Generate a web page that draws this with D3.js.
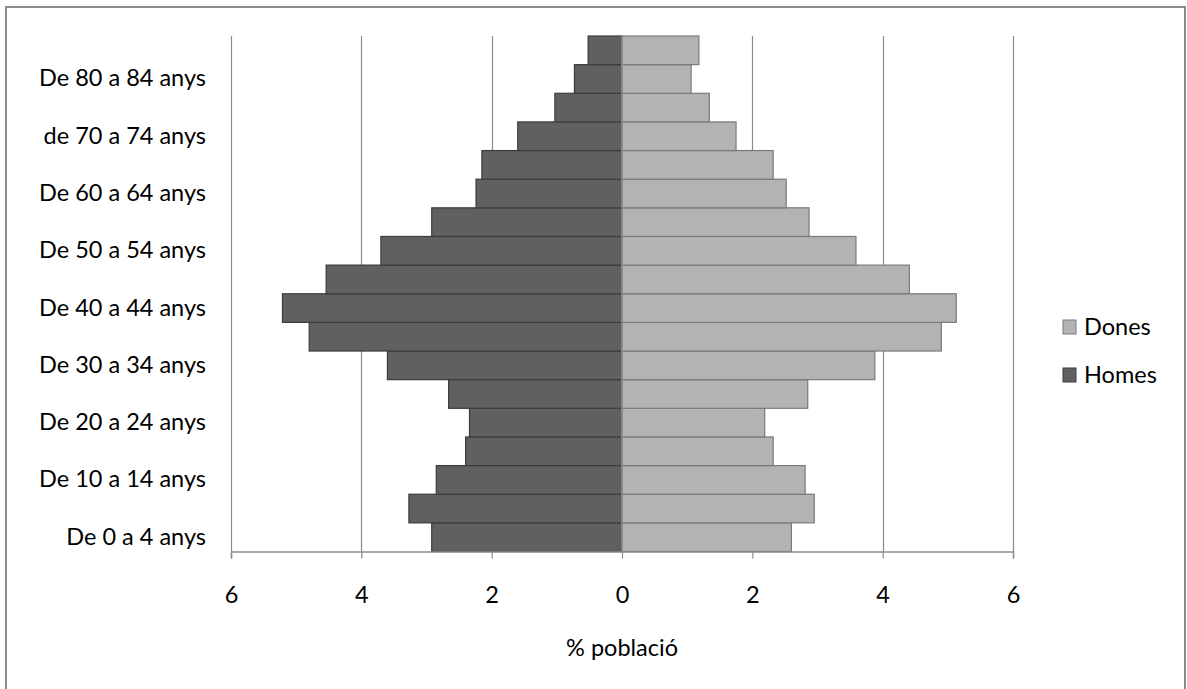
<!DOCTYPE html>
<html>
<head>
<meta charset="utf-8">
<script src="https://cdn.jsdelivr.net/npm/d3@7"></script>
<style>
  html, body { margin: 0; padding: 0; background: #fff; }
  svg { display: block; }
  text { font-family: Lato, "Open Sans", sans-serif; fill: #000; }
</style>
</head>
<body>
<svg id="chart" width="1187" height="689"></svg>
<script>
// Age groups, from youngest (bottom) to oldest (top)
const ageGroups = [
  "De 0 a 4 anys", "De 5 a 9 anys", "De 10 a 14 anys", "De 15 a 19 anys",
  "De 20 a 24 anys", "De 25 a 29 anys", "De 30 a 34 anys", "De 35 a 39 anys",
  "De 40 a 44 anys", "De 45 a 49 anys", "De 50 a 54 anys", "De 55 a 59 anys",
  "De 60 a 64 anys", "De 65 a 69 anys", "de 70 a 74 anys", "De 75 a 79 anys",
  "De 80 a 84 anys", "De 85 anys i més"
];
// Only every other group is labelled on the vertical axis
const labelledGroups = ageGroups.filter((d, i) => i % 2 === 0);

// Share of the population (%) by age group
const homes = [2.92, 3.27, 2.85, 2.40, 2.34, 2.66, 3.60, 4.80, 5.21,
               4.54, 3.70, 2.92, 2.24, 2.15, 1.60, 1.03, 0.73, 0.52];
const dones = [2.60, 2.95, 2.81, 2.32, 2.19, 2.85, 3.88, 4.90, 5.13,
               4.41, 3.59, 2.87, 2.52, 2.32, 1.75, 1.34, 1.06, 1.18];

const xTicks = [-6, -4, -2, 0, 2, 4, 6];
const seriesNames = ["Dones", "Homes"];
const axisTitle = "% població";

const colors = {
  Dones: { fill: "#b3b3b3", stroke: "#7a7a7a" },
  Homes: { fill: "#606060", stroke: "#3c3c3c" }
};

const svg = d3.select("#chart");
const W = 1187, H = 689;

// Outer chart frame
svg.append("rect")
  .attr("x", 6).attr("y", 7).attr("width", 1179).attr("height", 700)
  .attr("fill", "#fff").attr("stroke", "#8c8c8c").attr("stroke-width", 2);

const plot = { left: 231, right: 1013, top: 36, bottom: 551.5 };

const x = d3.scaleLinear().domain([-6, 6]).range([plot.left, plot.right]);
const y = d3.scaleBand().domain(ageGroups).range([plot.bottom, plot.top])
  .paddingInner(0).paddingOuter(0);

// Vertical gridlines
svg.append("g")
  .selectAll("line")
  .data(xTicks)
  .join("line")
  .attr("x1", d => Math.round(x(d)) + 0.5)
  .attr("x2", d => Math.round(x(d)) + 0.5)
  .attr("y1", plot.top)
  .attr("y2", plot.bottom)
  .attr("stroke", "#8c8c8c")
  .attr("stroke-width", 1.2);

// Men to the left of zero, women to the right
const rows = ageGroups.map((g, i) => ({ group: g, homes: homes[i], dones: dones[i] }));

svg.append("g").selectAll("rect")
  .data(rows)
  .join("rect")
  .attr("x", d => x(-d.homes))
  .attr("y", d => y(d.group))
  .attr("width", d => x(0) - x(-d.homes))
  .attr("height", y.bandwidth())
  .attr("fill", colors.Homes.fill)
  .attr("stroke", colors.Homes.stroke)
  .attr("stroke-width", 1.2);

svg.append("g").selectAll("rect")
  .data(rows)
  .join("rect")
  .attr("x", x(0))
  .attr("y", d => y(d.group))
  .attr("width", d => x(d.dones) - x(0))
  .attr("height", y.bandwidth())
  .attr("fill", colors.Dones.fill)
  .attr("stroke", colors.Dones.stroke)
  .attr("stroke-width", 1.2);

// Vertical axis line at zero
svg.append("line")
  .attr("x1", x(0)).attr("x2", x(0))
  .attr("y1", plot.top).attr("y2", plot.bottom)
  .attr("stroke", "#8c8c8c").attr("stroke-width", 1.5);

// Horizontal axis with absolute values
const xAxis = d3.axisBottom(x)
  .tickValues(xTicks)
  .tickSize(7)
  .tickFormat(d => Math.abs(d));

const gx = svg.append("g")
  .attr("transform", `translate(0,${plot.bottom})`)
  .call(xAxis);
gx.select(".domain").attr("stroke", "#8c8c8c").attr("stroke-width", 1.5);
gx.selectAll(".tick line").attr("stroke", "#8c8c8c").attr("stroke-width", 1.2);
gx.selectAll(".tick text")
  .attr("y", 43).attr("dy", "0.35em")
  .style("font-family", "Lato, sans-serif")
  .style("font-size", "23.5px")
  .attr("fill", "#000");

// Category labels, right-aligned to the left of the plot
const yAxis = d3.axisLeft(y).tickValues(labelledGroups).tickSize(0).tickPadding(25);
const gy = svg.append("g")
  .attr("transform", `translate(${plot.left},0)`)
  .call(yAxis);
gy.select(".domain").remove();
gy.selectAll(".tick text")
  .style("font-family", "Lato, sans-serif")
  .style("font-size", "23.5px")
  .attr("fill", "#000");

// Axis title
svg.append("text")
  .attr("x", x(0))
  .attr("y", 648)
  .attr("dy", "0.35em")
  .attr("text-anchor", "middle")
  .style("font-size", "23.5px")
  .text(axisTitle);

// Legend
const legend = svg.append("g");
const legendY = d3.scalePoint().domain(seriesNames).range([327, 375]);
seriesNames.forEach(name => {
  legend.append("rect")
    .attr("x", 1063).attr("y", legendY(name) - 7)
    .attr("width", 13).attr("height", 14)
    .attr("fill", colors[name].fill)
    .attr("stroke", colors[name].stroke)
    .attr("stroke-width", 1);
  legend.append("text")
    .attr("x", 1084)
    .attr("y", legendY(name))
    .attr("dy", "0.35em")
    .style("font-size", "23.5px")
    .text(name);
});
</script>
</body>
</html>
